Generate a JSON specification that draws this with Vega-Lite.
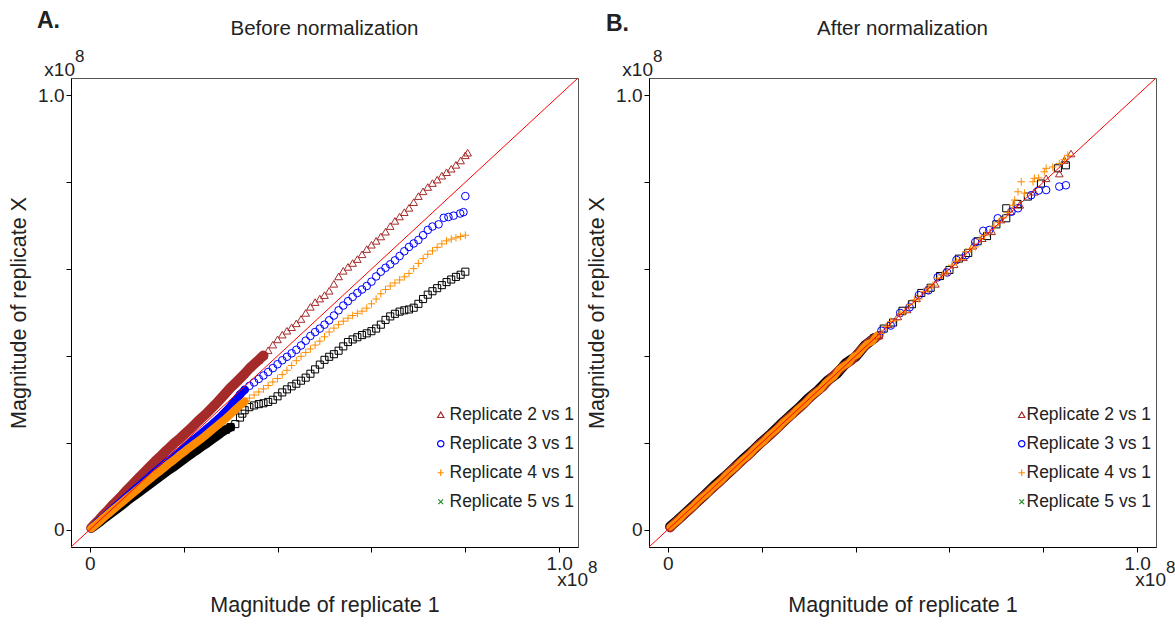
{
"$schema":"https://vega.github.io/schema/vega-lite/v6.json",
"background":"white",
"padding":{"left":8,"top":9,"right":5,"bottom":5},
"config":{"font":"Liberation Sans","view":{"stroke":"#555","strokeWidth":1},
"axis":{"grid":false,"domainColor":"#000","tickColor":"#000","domainWidth":1,"tickWidth":1,"tickSize":5,"labelFontSize":19,"labelColor":"#222","labelPadding":2,"titleFontSize":21.5,"titleFontWeight":"normal","titleColor":"#222","labelExpr":"datum.value == 0 ? '0' : (datum.value == 1 ? '1.0' : '')","labelFlush":false,"labelOverlap":false},
"axisX":{"titlePadding":21},"axisY":{"titlePadding":7},
"legend":{"orient":"none","title":null,"labelFontSize":17.5,"labelColor":"#222","symbolSize":40,"symbolStrokeWidth":1.2,"rowPadding":10,"padding":0}},
"datasets":{"pts":[
{"p":"A","s":"5","x":0.003,"y":0.003},{"p":"A","s":"5","x":0.01,"y":0.008},{"p":"A","s":"5","x":0.02,"y":0.016},{"p":"A","s":"5","x":0.03,"y":0.025},{"p":"A","s":"5","x":0.04,"y":0.033},{"p":"A","s":"5","x":0.05,"y":0.041},{"p":"A","s":"5","x":0.06,"y":0.049},{"p":"A","s":"5","x":0.07,"y":0.057},{"p":"A","s":"5","x":0.08,"y":0.066},{"p":"A","s":"5","x":0.09,"y":0.074},{"p":"A","s":"5","x":0.1,"y":0.082},{"p":"A","s":"5","x":0.11,"y":0.09},{"p":"A","s":"5","x":0.12,"y":0.098},{"p":"A","s":"5","x":0.13,"y":0.106},{"p":"A","s":"5","x":0.14,"y":0.114},{"p":"A","s":"5","x":0.15,"y":0.122},{"p":"A","s":"5","x":0.16,"y":0.13},{"p":"A","s":"5","x":0.17,"y":0.138},{"p":"A","s":"5","x":0.18,"y":0.145},{"p":"A","s":"5","x":0.19,"y":0.153},{"p":"A","s":"5","x":0.2,"y":0.161},{"p":"A","s":"5","x":0.21,"y":0.169},{"p":"A","s":"5","x":0.22,"y":0.177},{"p":"A","s":"5","x":0.23,"y":0.184},{"p":"A","s":"5","x":0.24,"y":0.192},{"p":"A","s":"5","x":0.25,"y":0.199},{"p":"A","s":"5","x":0.26,"y":0.207},{"p":"A","s":"5","x":0.27,"y":0.215},{"p":"A","s":"5","x":0.28,"y":0.223},{"p":"A","s":"5","x":0.29,"y":0.23},{"p":"A","s":"5","x":0.3,"y":0.236},{"p":"A","s":"5","x":0.31,"y":0.243},{"p":"A","s":"5","x":0.32,"y":0.258},{"p":"A","s":"5","x":0.325,"y":0.267},{"p":"A","s":"5","x":0.33,"y":0.275},{"p":"A","s":"5","x":0.34,"y":0.282},{"p":"A","s":"5","x":0.35,"y":0.286},{"p":"A","s":"5","x":0.36,"y":0.289},{"p":"A","s":"5","x":0.37,"y":0.291},{"p":"A","s":"5","x":0.38,"y":0.294},{"p":"A","s":"5","x":0.39,"y":0.299},{"p":"A","s":"5","x":0.4,"y":0.307},{"p":"A","s":"5","x":0.41,"y":0.316},{"p":"A","s":"5","x":0.42,"y":0.323},{"p":"A","s":"5","x":0.43,"y":0.33},{"p":"A","s":"5","x":0.44,"y":0.336},{"p":"A","s":"5","x":0.45,"y":0.343},{"p":"A","s":"5","x":0.46,"y":0.35},{"p":"A","s":"5","x":0.47,"y":0.359},{"p":"A","s":"5","x":0.48,"y":0.369},{"p":"A","s":"5","x":0.49,"y":0.38},{"p":"A","s":"5","x":0.5,"y":0.391},{"p":"A","s":"5","x":0.51,"y":0.398},{"p":"A","s":"5","x":0.52,"y":0.404},{"p":"A","s":"5","x":0.53,"y":0.412},{"p":"A","s":"5","x":0.54,"y":0.422},{"p":"A","s":"5","x":0.55,"y":0.432},{"p":"A","s":"5","x":0.56,"y":0.438},{"p":"A","s":"5","x":0.57,"y":0.443},{"p":"A","s":"5","x":0.58,"y":0.448},{"p":"A","s":"5","x":0.59,"y":0.452},{"p":"A","s":"5","x":0.6,"y":0.457},{"p":"A","s":"5","x":0.61,"y":0.463},{"p":"A","s":"5","x":0.62,"y":0.472},{"p":"A","s":"5","x":0.63,"y":0.483},{"p":"A","s":"5","x":0.64,"y":0.491},{"p":"A","s":"5","x":0.65,"y":0.497},{"p":"A","s":"5","x":0.66,"y":0.502},{"p":"A","s":"5","x":0.67,"y":0.505},{"p":"A","s":"5","x":0.68,"y":0.507},{"p":"A","s":"5","x":0.69,"y":0.511},{"p":"A","s":"5","x":0.7,"y":0.52},{"p":"A","s":"5","x":0.71,"y":0.531},{"p":"A","s":"5","x":0.72,"y":0.541},{"p":"A","s":"5","x":0.73,"y":0.549},{"p":"A","s":"5","x":0.74,"y":0.556},{"p":"A","s":"5","x":0.75,"y":0.563},{"p":"A","s":"5","x":0.76,"y":0.57},{"p":"A","s":"5","x":0.77,"y":0.576},{"p":"A","s":"5","x":0.78,"y":0.582},{"p":"A","s":"5","x":0.79,"y":0.587},{"p":"A","s":"5","x":0.8,"y":0.594},
{"p":"A","s":"2","x":0.003,"y":0.004},{"p":"A","s":"2","x":0.01,"y":0.012},{"p":"A","s":"2","x":0.02,"y":0.023},{"p":"A","s":"2","x":0.03,"y":0.035},{"p":"A","s":"2","x":0.04,"y":0.046},{"p":"A","s":"2","x":0.05,"y":0.058},{"p":"A","s":"2","x":0.06,"y":0.069},{"p":"A","s":"2","x":0.07,"y":0.08},{"p":"A","s":"2","x":0.08,"y":0.092},{"p":"A","s":"2","x":0.09,"y":0.103},{"p":"A","s":"2","x":0.1,"y":0.114},{"p":"A","s":"2","x":0.11,"y":0.125},{"p":"A","s":"2","x":0.12,"y":0.136},{"p":"A","s":"2","x":0.13,"y":0.147},{"p":"A","s":"2","x":0.14,"y":0.158},{"p":"A","s":"2","x":0.15,"y":0.168},{"p":"A","s":"2","x":0.16,"y":0.179},{"p":"A","s":"2","x":0.17,"y":0.189},{"p":"A","s":"2","x":0.18,"y":0.199},{"p":"A","s":"2","x":0.19,"y":0.208},{"p":"A","s":"2","x":0.2,"y":0.218},{"p":"A","s":"2","x":0.21,"y":0.228},{"p":"A","s":"2","x":0.22,"y":0.238},{"p":"A","s":"2","x":0.23,"y":0.249},{"p":"A","s":"2","x":0.24,"y":0.259},{"p":"A","s":"2","x":0.25,"y":0.269},{"p":"A","s":"2","x":0.26,"y":0.28},{"p":"A","s":"2","x":0.27,"y":0.291},{"p":"A","s":"2","x":0.28,"y":0.303},{"p":"A","s":"2","x":0.29,"y":0.315},{"p":"A","s":"2","x":0.3,"y":0.327},{"p":"A","s":"2","x":0.31,"y":0.337},{"p":"A","s":"2","x":0.32,"y":0.348},{"p":"A","s":"2","x":0.33,"y":0.359},{"p":"A","s":"2","x":0.34,"y":0.371},{"p":"A","s":"2","x":0.35,"y":0.381},{"p":"A","s":"2","x":0.36,"y":0.391},{"p":"A","s":"2","x":0.37,"y":0.401},{"p":"A","s":"2","x":0.38,"y":0.413},{"p":"A","s":"2","x":0.39,"y":0.426},{"p":"A","s":"2","x":0.4,"y":0.438},{"p":"A","s":"2","x":0.41,"y":0.449},{"p":"A","s":"2","x":0.42,"y":0.458},{"p":"A","s":"2","x":0.43,"y":0.466},{"p":"A","s":"2","x":0.44,"y":0.475},{"p":"A","s":"2","x":0.45,"y":0.485},{"p":"A","s":"2","x":0.46,"y":0.499},{"p":"A","s":"2","x":0.47,"y":0.513},{"p":"A","s":"2","x":0.48,"y":0.524},{"p":"A","s":"2","x":0.49,"y":0.532},{"p":"A","s":"2","x":0.5,"y":0.54},{"p":"A","s":"2","x":0.51,"y":0.55},{"p":"A","s":"2","x":0.52,"y":0.566},{"p":"A","s":"2","x":0.53,"y":0.583},{"p":"A","s":"2","x":0.54,"y":0.596},{"p":"A","s":"2","x":0.55,"y":0.605},{"p":"A","s":"2","x":0.56,"y":0.614},{"p":"A","s":"2","x":0.57,"y":0.623},{"p":"A","s":"2","x":0.58,"y":0.634},{"p":"A","s":"2","x":0.59,"y":0.646},{"p":"A","s":"2","x":0.6,"y":0.656},{"p":"A","s":"2","x":0.61,"y":0.665},{"p":"A","s":"2","x":0.62,"y":0.675},{"p":"A","s":"2","x":0.63,"y":0.686},{"p":"A","s":"2","x":0.64,"y":0.699},{"p":"A","s":"2","x":0.65,"y":0.711},{"p":"A","s":"2","x":0.66,"y":0.721},{"p":"A","s":"2","x":0.67,"y":0.731},{"p":"A","s":"2","x":0.68,"y":0.741},{"p":"A","s":"2","x":0.69,"y":0.754},{"p":"A","s":"2","x":0.7,"y":0.768},{"p":"A","s":"2","x":0.71,"y":0.779},{"p":"A","s":"2","x":0.72,"y":0.789},{"p":"A","s":"2","x":0.73,"y":0.798},{"p":"A","s":"2","x":0.74,"y":0.806},{"p":"A","s":"2","x":0.75,"y":0.815},{"p":"A","s":"2","x":0.76,"y":0.823},{"p":"A","s":"2","x":0.77,"y":0.831},{"p":"A","s":"2","x":0.78,"y":0.84},{"p":"A","s":"2","x":0.79,"y":0.85},{"p":"A","s":"2","x":0.8,"y":0.862},{"p":"A","s":"2","x":0.805,"y":0.868},
{"p":"A","s":"3","x":0.003,"y":0.003},{"p":"A","s":"3","x":0.01,"y":0.01},{"p":"A","s":"3","x":0.02,"y":0.02},{"p":"A","s":"3","x":0.03,"y":0.029},{"p":"A","s":"3","x":0.04,"y":0.039},{"p":"A","s":"3","x":0.05,"y":0.049},{"p":"A","s":"3","x":0.06,"y":0.058},{"p":"A","s":"3","x":0.07,"y":0.068},{"p":"A","s":"3","x":0.08,"y":0.077},{"p":"A","s":"3","x":0.09,"y":0.087},{"p":"A","s":"3","x":0.1,"y":0.096},{"p":"A","s":"3","x":0.11,"y":0.106},{"p":"A","s":"3","x":0.12,"y":0.115},{"p":"A","s":"3","x":0.13,"y":0.125},{"p":"A","s":"3","x":0.14,"y":0.134},{"p":"A","s":"3","x":0.15,"y":0.143},{"p":"A","s":"3","x":0.16,"y":0.152},{"p":"A","s":"3","x":0.17,"y":0.161},{"p":"A","s":"3","x":0.18,"y":0.17},{"p":"A","s":"3","x":0.19,"y":0.179},{"p":"A","s":"3","x":0.2,"y":0.188},{"p":"A","s":"3","x":0.21,"y":0.197},{"p":"A","s":"3","x":0.22,"y":0.206},{"p":"A","s":"3","x":0.23,"y":0.215},{"p":"A","s":"3","x":0.24,"y":0.224},{"p":"A","s":"3","x":0.25,"y":0.233},{"p":"A","s":"3","x":0.26,"y":0.242},{"p":"A","s":"3","x":0.27,"y":0.252},{"p":"A","s":"3","x":0.28,"y":0.262},{"p":"A","s":"3","x":0.29,"y":0.273},{"p":"A","s":"3","x":0.3,"y":0.285},{"p":"A","s":"3","x":0.31,"y":0.298},{"p":"A","s":"3","x":0.32,"y":0.311},{"p":"A","s":"3","x":0.33,"y":0.322},{"p":"A","s":"3","x":0.34,"y":0.331},{"p":"A","s":"3","x":0.35,"y":0.339},{"p":"A","s":"3","x":0.36,"y":0.347},{"p":"A","s":"3","x":0.37,"y":0.355},{"p":"A","s":"3","x":0.38,"y":0.363},{"p":"A","s":"3","x":0.39,"y":0.372},{"p":"A","s":"3","x":0.4,"y":0.381},{"p":"A","s":"3","x":0.41,"y":0.39},{"p":"A","s":"3","x":0.42,"y":0.398},{"p":"A","s":"3","x":0.43,"y":0.406},{"p":"A","s":"3","x":0.44,"y":0.414},{"p":"A","s":"3","x":0.45,"y":0.424},{"p":"A","s":"3","x":0.46,"y":0.435},{"p":"A","s":"3","x":0.47,"y":0.446},{"p":"A","s":"3","x":0.48,"y":0.455},{"p":"A","s":"3","x":0.49,"y":0.463},{"p":"A","s":"3","x":0.5,"y":0.472},{"p":"A","s":"3","x":0.51,"y":0.482},{"p":"A","s":"3","x":0.52,"y":0.493},{"p":"A","s":"3","x":0.53,"y":0.505},{"p":"A","s":"3","x":0.54,"y":0.516},{"p":"A","s":"3","x":0.55,"y":0.526},{"p":"A","s":"3","x":0.56,"y":0.536},{"p":"A","s":"3","x":0.57,"y":0.545},{"p":"A","s":"3","x":0.58,"y":0.553},{"p":"A","s":"3","x":0.59,"y":0.561},{"p":"A","s":"3","x":0.6,"y":0.571},{"p":"A","s":"3","x":0.61,"y":0.583},{"p":"A","s":"3","x":0.62,"y":0.594},{"p":"A","s":"3","x":0.63,"y":0.603},{"p":"A","s":"3","x":0.64,"y":0.611},{"p":"A","s":"3","x":0.65,"y":0.62},{"p":"A","s":"3","x":0.66,"y":0.63},{"p":"A","s":"3","x":0.67,"y":0.641},{"p":"A","s":"3","x":0.68,"y":0.651},{"p":"A","s":"3","x":0.69,"y":0.659},{"p":"A","s":"3","x":0.7,"y":0.667},{"p":"A","s":"3","x":0.71,"y":0.678},{"p":"A","s":"3","x":0.72,"y":0.69},{"p":"A","s":"3","x":0.73,"y":0.698},{"p":"A","s":"3","x":0.743,"y":0.703},{"p":"A","s":"3","x":0.754,"y":0.718},{"p":"A","s":"3","x":0.764,"y":0.72},{"p":"A","s":"3","x":0.775,"y":0.723},{"p":"A","s":"3","x":0.789,"y":0.728},{"p":"A","s":"3","x":0.796,"y":0.731},{"p":"A","s":"3","x":0.8,"y":0.768},
{"p":"A","s":"4","x":0.003,"y":0.003},{"p":"A","s":"4","x":0.01,"y":0.009},{"p":"A","s":"4","x":0.02,"y":0.018},{"p":"A","s":"4","x":0.03,"y":0.028},{"p":"A","s":"4","x":0.04,"y":0.037},{"p":"A","s":"4","x":0.05,"y":0.046},{"p":"A","s":"4","x":0.06,"y":0.055},{"p":"A","s":"4","x":0.07,"y":0.064},{"p":"A","s":"4","x":0.08,"y":0.073},{"p":"A","s":"4","x":0.09,"y":0.082},{"p":"A","s":"4","x":0.1,"y":0.091},{"p":"A","s":"4","x":0.11,"y":0.1},{"p":"A","s":"4","x":0.12,"y":0.109},{"p":"A","s":"4","x":0.13,"y":0.118},{"p":"A","s":"4","x":0.14,"y":0.127},{"p":"A","s":"4","x":0.15,"y":0.135},{"p":"A","s":"4","x":0.16,"y":0.144},{"p":"A","s":"4","x":0.17,"y":0.153},{"p":"A","s":"4","x":0.18,"y":0.161},{"p":"A","s":"4","x":0.19,"y":0.17},{"p":"A","s":"4","x":0.2,"y":0.178},{"p":"A","s":"4","x":0.21,"y":0.187},{"p":"A","s":"4","x":0.22,"y":0.195},{"p":"A","s":"4","x":0.23,"y":0.203},{"p":"A","s":"4","x":0.24,"y":0.211},{"p":"A","s":"4","x":0.25,"y":0.22},{"p":"A","s":"4","x":0.26,"y":0.229},{"p":"A","s":"4","x":0.27,"y":0.238},{"p":"A","s":"4","x":0.28,"y":0.247},{"p":"A","s":"4","x":0.29,"y":0.256},{"p":"A","s":"4","x":0.3,"y":0.266},{"p":"A","s":"4","x":0.31,"y":0.276},{"p":"A","s":"4","x":0.32,"y":0.286},{"p":"A","s":"4","x":0.33,"y":0.295},{"p":"A","s":"4","x":0.34,"y":0.303},{"p":"A","s":"4","x":0.35,"y":0.31},{"p":"A","s":"4","x":0.36,"y":0.317},{"p":"A","s":"4","x":0.37,"y":0.324},{"p":"A","s":"4","x":0.38,"y":0.332},{"p":"A","s":"4","x":0.39,"y":0.34},{"p":"A","s":"4","x":0.4,"y":0.348},{"p":"A","s":"4","x":0.41,"y":0.357},{"p":"A","s":"4","x":0.42,"y":0.367},{"p":"A","s":"4","x":0.43,"y":0.378},{"p":"A","s":"4","x":0.44,"y":0.389},{"p":"A","s":"4","x":0.45,"y":0.399},{"p":"A","s":"4","x":0.46,"y":0.408},{"p":"A","s":"4","x":0.47,"y":0.416},{"p":"A","s":"4","x":0.48,"y":0.425},{"p":"A","s":"4","x":0.49,"y":0.434},{"p":"A","s":"4","x":0.5,"y":0.444},{"p":"A","s":"4","x":0.51,"y":0.455},{"p":"A","s":"4","x":0.52,"y":0.464},{"p":"A","s":"4","x":0.53,"y":0.472},{"p":"A","s":"4","x":0.54,"y":0.48},{"p":"A","s":"4","x":0.55,"y":0.487},{"p":"A","s":"4","x":0.56,"y":0.493},{"p":"A","s":"4","x":0.57,"y":0.498},{"p":"A","s":"4","x":0.58,"y":0.503},{"p":"A","s":"4","x":0.59,"y":0.51},{"p":"A","s":"4","x":0.6,"y":0.52},{"p":"A","s":"4","x":0.61,"y":0.531},{"p":"A","s":"4","x":0.62,"y":0.543},{"p":"A","s":"4","x":0.63,"y":0.553},{"p":"A","s":"4","x":0.64,"y":0.561},{"p":"A","s":"4","x":0.65,"y":0.568},{"p":"A","s":"4","x":0.66,"y":0.575},{"p":"A","s":"4","x":0.67,"y":0.582},{"p":"A","s":"4","x":0.68,"y":0.59},{"p":"A","s":"4","x":0.69,"y":0.601},{"p":"A","s":"4","x":0.7,"y":0.613},{"p":"A","s":"4","x":0.71,"y":0.624},{"p":"A","s":"4","x":0.72,"y":0.634},{"p":"A","s":"4","x":0.73,"y":0.642},{"p":"A","s":"4","x":0.74,"y":0.65},{"p":"A","s":"4","x":0.75,"y":0.658},{"p":"A","s":"4","x":0.76,"y":0.665},{"p":"A","s":"4","x":0.77,"y":0.669},{"p":"A","s":"4","x":0.78,"y":0.672},{"p":"A","s":"4","x":0.79,"y":0.675},{"p":"A","s":"4","x":0.8,"y":0.678},
{"p":"B","s":"5","x":0.005,"y":0.007},{"p":"B","s":"5","x":0.02,"y":0.021},{"p":"B","s":"5","x":0.04,"y":0.041},{"p":"B","s":"5","x":0.06,"y":0.061},{"p":"B","s":"5","x":0.08,"y":0.081},{"p":"B","s":"5","x":0.1,"y":0.102},{"p":"B","s":"5","x":0.12,"y":0.121},{"p":"B","s":"5","x":0.14,"y":0.141},{"p":"B","s":"5","x":0.16,"y":0.162},{"p":"B","s":"5","x":0.18,"y":0.181},{"p":"B","s":"5","x":0.2,"y":0.202},{"p":"B","s":"5","x":0.22,"y":0.221},{"p":"B","s":"5","x":0.24,"y":0.242},{"p":"B","s":"5","x":0.26,"y":0.262},{"p":"B","s":"5","x":0.28,"y":0.281},{"p":"B","s":"5","x":0.3,"y":0.303},{"p":"B","s":"5","x":0.32,"y":0.321},{"p":"B","s":"5","x":0.34,"y":0.343},{"p":"B","s":"5","x":0.36,"y":0.359},{"p":"B","s":"5","x":0.38,"y":0.384},{"p":"B","s":"5","x":0.4,"y":0.398},{"p":"B","s":"5","x":0.42,"y":0.424},{"p":"B","s":"5","x":0.44,"y":0.441},{"p":"B","s":"5","x":0.46,"y":0.463},{"p":"B","s":"5","x":0.48,"y":0.477},{"p":"B","s":"5","x":0.5,"y":0.504},{"p":"B","s":"5","x":0.52,"y":0.519},{"p":"B","s":"5","x":0.54,"y":0.545},{"p":"B","s":"5","x":0.56,"y":0.557},{"p":"B","s":"5","x":0.58,"y":0.584},{"p":"B","s":"5","x":0.6,"y":0.598},{"p":"B","s":"5","x":0.62,"y":0.624},{"p":"B","s":"5","x":0.64,"y":0.637},{"p":"B","s":"5","x":0.66,"y":0.664},{"p":"B","s":"5","x":0.68,"y":0.676},{"p":"B","s":"5","x":0.7,"y":0.703},{"p":"B","s":"5","x":0.721,"y":0.717},{"p":"B","s":"5","x":0.721,"y":0.74},{"p":"B","s":"5","x":0.745,"y":0.75},{"p":"B","s":"5","x":0.767,"y":0.767},{"p":"B","s":"5","x":0.795,"y":0.797},{"p":"B","s":"5","x":0.831,"y":0.832},{"p":"B","s":"5","x":0.848,"y":0.839},
{"p":"B","s":"2","x":0.005,"y":0.004},{"p":"B","s":"2","x":0.01,"y":0.01},{"p":"B","s":"2","x":0.03,"y":0.03},{"p":"B","s":"2","x":0.05,"y":0.049},{"p":"B","s":"2","x":0.07,"y":0.071},{"p":"B","s":"2","x":0.09,"y":0.09},{"p":"B","s":"2","x":0.11,"y":0.109},{"p":"B","s":"2","x":0.13,"y":0.131},{"p":"B","s":"2","x":0.15,"y":0.15},{"p":"B","s":"2","x":0.17,"y":0.169},{"p":"B","s":"2","x":0.19,"y":0.191},{"p":"B","s":"2","x":0.21,"y":0.21},{"p":"B","s":"2","x":0.23,"y":0.229},{"p":"B","s":"2","x":0.25,"y":0.251},{"p":"B","s":"2","x":0.27,"y":0.27},{"p":"B","s":"2","x":0.29,"y":0.289},{"p":"B","s":"2","x":0.31,"y":0.311},{"p":"B","s":"2","x":0.33,"y":0.328},{"p":"B","s":"2","x":0.35,"y":0.352},{"p":"B","s":"2","x":0.37,"y":0.373},{"p":"B","s":"2","x":0.39,"y":0.388},{"p":"B","s":"2","x":0.41,"y":0.412},{"p":"B","s":"2","x":0.43,"y":0.433},{"p":"B","s":"2","x":0.45,"y":0.447},{"p":"B","s":"2","x":0.47,"y":0.473},{"p":"B","s":"2","x":0.49,"y":0.491},{"p":"B","s":"2","x":0.51,"y":0.507},{"p":"B","s":"2","x":0.53,"y":0.533},{"p":"B","s":"2","x":0.55,"y":0.552},{"p":"B","s":"2","x":0.57,"y":0.566},{"p":"B","s":"2","x":0.59,"y":0.594},{"p":"B","s":"2","x":0.61,"y":0.611},{"p":"B","s":"2","x":0.63,"y":0.627},{"p":"B","s":"2","x":0.65,"y":0.654},{"p":"B","s":"2","x":0.67,"y":0.671},{"p":"B","s":"2","x":0.69,"y":0.687},{"p":"B","s":"2","x":0.71,"y":0.714},{"p":"B","s":"2","x":0.73,"y":0.733},{"p":"B","s":"2","x":0.75,"y":0.748},{"p":"B","s":"2","x":0.781,"y":0.778},{"p":"B","s":"2","x":0.806,"y":0.809},{"p":"B","s":"2","x":0.834,"y":0.82},{"p":"B","s":"2","x":0.845,"y":0.851},{"p":"B","s":"2","x":0.859,"y":0.866},
{"p":"B","s":"3","x":0.015,"y":0.014},{"p":"B","s":"3","x":0.035,"y":0.035},{"p":"B","s":"3","x":0.055,"y":0.056},{"p":"B","s":"3","x":0.075,"y":0.074},{"p":"B","s":"3","x":0.095,"y":0.095},{"p":"B","s":"3","x":0.115,"y":0.116},{"p":"B","s":"3","x":0.135,"y":0.134},{"p":"B","s":"3","x":0.155,"y":0.155},{"p":"B","s":"3","x":0.175,"y":0.176},{"p":"B","s":"3","x":0.195,"y":0.194},{"p":"B","s":"3","x":0.215,"y":0.215},{"p":"B","s":"3","x":0.235,"y":0.236},{"p":"B","s":"3","x":0.255,"y":0.254},{"p":"B","s":"3","x":0.275,"y":0.275},{"p":"B","s":"3","x":0.295,"y":0.296},{"p":"B","s":"3","x":0.315,"y":0.313},{"p":"B","s":"3","x":0.335,"y":0.334},{"p":"B","s":"3","x":0.355,"y":0.359},{"p":"B","s":"3","x":0.375,"y":0.372},{"p":"B","s":"3","x":0.395,"y":0.393},{"p":"B","s":"3","x":0.415,"y":0.42},{"p":"B","s":"3","x":0.435,"y":0.431},{"p":"B","s":"3","x":0.455,"y":0.458},{"p":"B","s":"3","x":0.475,"y":0.47},{"p":"B","s":"3","x":0.495,"y":0.499},{"p":"B","s":"3","x":0.515,"y":0.512},{"p":"B","s":"3","x":0.535,"y":0.54},{"p":"B","s":"3","x":0.555,"y":0.551},{"p":"B","s":"3","x":0.575,"y":0.581},{"p":"B","s":"3","x":0.595,"y":0.592},{"p":"B","s":"3","x":0.615,"y":0.621},{"p":"B","s":"3","x":0.635,"y":0.632},{"p":"B","s":"3","x":0.655,"y":0.662},{"p":"B","s":"3","x":0.672,"y":0.688},{"p":"B","s":"3","x":0.685,"y":0.69},{"p":"B","s":"3","x":0.703,"y":0.717},{"p":"B","s":"3","x":0.732,"y":0.732},{"p":"B","s":"3","x":0.746,"y":0.74},{"p":"B","s":"3","x":0.774,"y":0.77},{"p":"B","s":"3","x":0.79,"y":0.781},{"p":"B","s":"3","x":0.806,"y":0.782},{"p":"B","s":"3","x":0.834,"y":0.79},{"p":"B","s":"3","x":0.848,"y":0.793},
{"p":"B","s":"4","x":0.005,"y":0.006},{"p":"B","s":"4","x":0.015,"y":0.015},{"p":"B","s":"4","x":0.025,"y":0.024},{"p":"B","s":"4","x":0.035,"y":0.036},{"p":"B","s":"4","x":0.045,"y":0.045},{"p":"B","s":"4","x":0.055,"y":0.054},{"p":"B","s":"4","x":0.065,"y":0.066},{"p":"B","s":"4","x":0.075,"y":0.075},{"p":"B","s":"4","x":0.085,"y":0.084},{"p":"B","s":"4","x":0.095,"y":0.096},{"p":"B","s":"4","x":0.105,"y":0.105},{"p":"B","s":"4","x":0.115,"y":0.114},{"p":"B","s":"4","x":0.125,"y":0.126},{"p":"B","s":"4","x":0.135,"y":0.135},{"p":"B","s":"4","x":0.145,"y":0.144},{"p":"B","s":"4","x":0.155,"y":0.156},{"p":"B","s":"4","x":0.165,"y":0.165},{"p":"B","s":"4","x":0.175,"y":0.174},{"p":"B","s":"4","x":0.185,"y":0.186},{"p":"B","s":"4","x":0.195,"y":0.195},{"p":"B","s":"4","x":0.205,"y":0.204},{"p":"B","s":"4","x":0.215,"y":0.216},{"p":"B","s":"4","x":0.225,"y":0.225},{"p":"B","s":"4","x":0.235,"y":0.234},{"p":"B","s":"4","x":0.245,"y":0.246},{"p":"B","s":"4","x":0.255,"y":0.255},{"p":"B","s":"4","x":0.265,"y":0.264},{"p":"B","s":"4","x":0.275,"y":0.276},{"p":"B","s":"4","x":0.285,"y":0.285},{"p":"B","s":"4","x":0.295,"y":0.294},{"p":"B","s":"4","x":0.305,"y":0.306},{"p":"B","s":"4","x":0.315,"y":0.315},{"p":"B","s":"4","x":0.325,"y":0.323},{"p":"B","s":"4","x":0.335,"y":0.337},{"p":"B","s":"4","x":0.345,"y":0.345},{"p":"B","s":"4","x":0.355,"y":0.353},{"p":"B","s":"4","x":0.365,"y":0.369},{"p":"B","s":"4","x":0.375,"y":0.377},{"p":"B","s":"4","x":0.385,"y":0.383},{"p":"B","s":"4","x":0.395,"y":0.398},{"p":"B","s":"4","x":0.405,"y":0.403},{"p":"B","s":"4","x":0.415,"y":0.417},{"p":"B","s":"4","x":0.425,"y":0.428},{"p":"B","s":"4","x":0.435,"y":0.432},{"p":"B","s":"4","x":0.445,"y":0.447},{"p":"B","s":"4","x":0.455,"y":0.452},{"p":"B","s":"4","x":0.465,"y":0.468},{"p":"B","s":"4","x":0.475,"y":0.479},{"p":"B","s":"4","x":0.485,"y":0.482},{"p":"B","s":"4","x":0.495,"y":0.497},{"p":"B","s":"4","x":0.505,"y":0.501},{"p":"B","s":"4","x":0.515,"y":0.518},{"p":"B","s":"4","x":0.525,"y":0.529},{"p":"B","s":"4","x":0.535,"y":0.531},{"p":"B","s":"4","x":0.545,"y":0.548},{"p":"B","s":"4","x":0.555,"y":0.556},{"p":"B","s":"4","x":0.565,"y":0.563},{"p":"B","s":"4","x":0.575,"y":0.579},{"p":"B","s":"4","x":0.585,"y":0.586},{"p":"B","s":"4","x":0.595,"y":0.591},{"p":"B","s":"4","x":0.605,"y":0.609},{"p":"B","s":"4","x":0.615,"y":0.618},{"p":"B","s":"4","x":0.625,"y":0.622},{"p":"B","s":"4","x":0.635,"y":0.64},{"p":"B","s":"4","x":0.645,"y":0.646},{"p":"B","s":"4","x":0.655,"y":0.651},{"p":"B","s":"4","x":0.665,"y":0.669},{"p":"B","s":"4","x":0.675,"y":0.678},{"p":"B","s":"4","x":0.685,"y":0.683},{"p":"B","s":"4","x":0.695,"y":0.699},{"p":"B","s":"4","x":0.705,"y":0.708},{"p":"B","s":"4","x":0.715,"y":0.718},{"p":"B","s":"4","x":0.725,"y":0.73},{"p":"B","s":"4","x":0.735,"y":0.747},{"p":"B","s":"4","x":0.739,"y":0.759},{"p":"B","s":"4","x":0.746,"y":0.778},{"p":"B","s":"4","x":0.753,"y":0.801},{"p":"B","s":"4","x":0.76,"y":0.775},{"p":"B","s":"4","x":0.778,"y":0.801},{"p":"B","s":"4","x":0.781,"y":0.809},{"p":"B","s":"4","x":0.79,"y":0.81},{"p":"B","s":"4","x":0.802,"y":0.824},{"p":"B","s":"4","x":0.806,"y":0.832},{"p":"B","s":"4","x":0.82,"y":0.835},{"p":"B","s":"4","x":0.834,"y":0.843},{"p":"B","s":"4","x":0.845,"y":0.852},{"p":"B","s":"4","x":0.852,"y":0.862}
]},
"hconcat":[
{"width":507,"height":469,"data":{"name":"pts"},"transform":[{"filter":"datum.p == 'A'"}],
"layer":[
{"transform":[{"filter":"datum.s == '5' && datum.x <= 0.3"}],"mark":{"type":"line","color":"black","strokeWidth":9,"strokeCap":"round","strokeJoin":"round"},
"encoding":{"x":{"field":"x","type":"quantitative","scale":{"domain":[-0.04,1.04],"nice":false,"zero":false},"axis":{"values":[0,0.2,0.4,0.6,0.8,1],"title":"Magnitude of replicate 1"}},"y":{"field":"y","type":"quantitative","scale":{"domain":[-0.04,1.04],"nice":false,"zero":false},"axis":{"values":[0,0.2,0.4,0.6,0.8,1],"title":"Magnitude of replicate X"}}}},
{"transform":[{"filter":"datum.s == '5' && datum.x >= 0.29"}],"mark":{"type":"point","shape":"square","color":"black","filled":false,"size":50,"strokeWidth":1,"opacity":1},
"encoding":{"x":{"field":"x","type":"quantitative","scale":{"domain":[-0.04,1.04],"nice":false,"zero":false},"axis":{"values":[0,0.2,0.4,0.6,0.8,1],"title":"Magnitude of replicate 1"}},"y":{"field":"y","type":"quantitative","scale":{"domain":[-0.04,1.04],"nice":false,"zero":false},"axis":{"values":[0,0.2,0.4,0.6,0.8,1],"title":"Magnitude of replicate X"}}}},
{"transform":[{"filter":"datum.s == '2' && datum.x <= 0.37"}],"mark":{"type":"line","color":"#a52a2a","strokeWidth":10,"strokeCap":"round","strokeJoin":"round"},
"encoding":{"x":{"field":"x","type":"quantitative","scale":{"domain":[-0.04,1.04],"nice":false,"zero":false},"axis":{"values":[0,0.2,0.4,0.6,0.8,1],"title":"Magnitude of replicate 1"}},"y":{"field":"y","type":"quantitative","scale":{"domain":[-0.04,1.04],"nice":false,"zero":false},"axis":{"values":[0,0.2,0.4,0.6,0.8,1],"title":"Magnitude of replicate X"}}}},
{"transform":[{"filter":"datum.s == '3' && datum.x <= 0.33"}],"mark":{"type":"line","color":"#0000ff","strokeWidth":8,"strokeCap":"round","strokeJoin":"round"},
"encoding":{"x":{"field":"x","type":"quantitative","scale":{"domain":[-0.04,1.04],"nice":false,"zero":false},"axis":{"values":[0,0.2,0.4,0.6,0.8,1],"title":"Magnitude of replicate 1"}},"y":{"field":"y","type":"quantitative","scale":{"domain":[-0.04,1.04],"nice":false,"zero":false},"axis":{"values":[0,0.2,0.4,0.6,0.8,1],"title":"Magnitude of replicate X"}}}},
{"transform":[{"filter":"datum.s == '4' && datum.x <= 0.33"}],"mark":{"type":"line","color":"#ff8c00","strokeWidth":8,"strokeCap":"round","strokeJoin":"round"},
"encoding":{"x":{"field":"x","type":"quantitative","scale":{"domain":[-0.04,1.04],"nice":false,"zero":false},"axis":{"values":[0,0.2,0.4,0.6,0.8,1],"title":"Magnitude of replicate 1"}},"y":{"field":"y","type":"quantitative","scale":{"domain":[-0.04,1.04],"nice":false,"zero":false},"axis":{"values":[0,0.2,0.4,0.6,0.8,1],"title":"Magnitude of replicate X"}}}},
{"transform":[{"filter":"datum.s != '5' && datum.x >= (datum.s == '2' ? 0.36 : 0.32)"}],"mark":{"type":"point","filled":false,"size":58,"strokeWidth":1,"opacity":1},
"encoding":{"x":{"field":"x","type":"quantitative","scale":{"domain":[-0.04,1.04],"nice":false,"zero":false},"axis":{"values":[0,0.2,0.4,0.6,0.8,1],"title":"Magnitude of replicate 1"}},"y":{"field":"y","type":"quantitative","scale":{"domain":[-0.04,1.04],"nice":false,"zero":false},"axis":{"values":[0,0.2,0.4,0.6,0.8,1],"title":"Magnitude of replicate X"}},
"color":{"field":"s","type":"nominal","scale":{"domain":["2","3","4","5"],"range":["#a52a2a","#0000ff","#ff8c00","#228b22"]},"legend":{"legendX":361,"legendY":328,"labelOffset":0,"labelExpr":"'Replicate ' + datum.label + ' vs 1'"}},
"shape":{"field":"s","type":"nominal","scale":{"domain":["2","3","4","5"],"range":["triangle-up","circle","M-1,0H1M0,-1V1","M-0.75,-0.75L0.75,0.75M-0.75,0.75L0.75,-0.75"]},"legend":{"legendX":361,"legendY":328,"labelOffset":0,"labelExpr":"'Replicate ' + datum.label + ' vs 1'"}}}},
{"data":{"values":[{}]},"mark":{"type":"rule","color":"#ff0000","strokeWidth":1},
"encoding":{"x":{"datum":-0.04,"type":"quantitative"},"y":{"datum":-0.04,"type":"quantitative"},"x2":{"datum":1.04},"y2":{"datum":1.04}}},
{"data":{"values":[{}]},"mark":{"type":"text","text":"A.","align":"left","baseline":"alphabetic","fontSize":23,"fontWeight":"bold","dx":-34,"dy":-50,"color":"#222"},"encoding":{"x":{"datum":-0.04,"type":"quantitative"},"y":{"datum":1.04,"type":"quantitative"}}},
{"data":{"values":[{}]},"mark":{"type":"text","text":"Before normalization","align":"center","baseline":"alphabetic","fontSize":20.5,"dy":-43,"color":"#222"},"encoding":{"x":{"datum":0.5,"type":"quantitative"},"y":{"datum":1.04,"type":"quantitative"}}},
{"data":{"values":[{}]},"mark":{"type":"text","text":"x10","align":"right","baseline":"alphabetic","fontSize":19,"dx":4,"dy":-2,"color":"#222"},"encoding":{"x":{"datum":-0.04,"type":"quantitative"},"y":{"datum":1.04,"type":"quantitative"}}},
{"data":{"values":[{}]},"mark":{"type":"text","text":"8","align":"left","baseline":"alphabetic","fontSize":17,"dx":4,"dy":-16,"color":"#222"},"encoding":{"x":{"datum":-0.04,"type":"quantitative"},"y":{"datum":1.04,"type":"quantitative"}}},
{"data":{"values":[{}]},"mark":{"type":"text","text":"x10","align":"right","baseline":"alphabetic","fontSize":19,"dx":10,"dy":39,"color":"#222"},"encoding":{"x":{"datum":1.04,"type":"quantitative"},"y":{"datum":-0.04,"type":"quantitative"}}},
{"data":{"values":[{}]},"mark":{"type":"text","text":"8","align":"left","baseline":"alphabetic","fontSize":17,"dx":10,"dy":26,"color":"#222"},"encoding":{"x":{"datum":1.04,"type":"quantitative"},"y":{"datum":-0.04,"type":"quantitative"}}}
]},
{"width":507,"height":469,"data":{"name":"pts"},"transform":[{"filter":"datum.p == 'B'"}],
"layer":[
{"transform":[{"filter":"datum.s == '5' && datum.x <= 0.45"}],"mark":{"type":"line","color":"black","strokeWidth":10,"strokeCap":"round","strokeJoin":"round"},
"encoding":{"x":{"field":"x","type":"quantitative","scale":{"domain":[-0.04,1.04],"nice":false,"zero":false},"axis":{"values":[0,0.2,0.4,0.6,0.8,1],"title":"Magnitude of replicate 1"}},"y":{"field":"y","type":"quantitative","scale":{"domain":[-0.04,1.04],"nice":false,"zero":false},"axis":{"values":[0,0.2,0.4,0.6,0.8,1],"title":"Magnitude of replicate X"}}}},
{"transform":[{"filter":"datum.s == '5' && datum.x >= 0.44"}],"mark":{"type":"point","shape":"square","color":"black","filled":false,"size":50,"strokeWidth":1,"opacity":1},
"encoding":{"x":{"field":"x","type":"quantitative","scale":{"domain":[-0.04,1.04],"nice":false,"zero":false},"axis":{"values":[0,0.2,0.4,0.6,0.8,1],"title":"Magnitude of replicate 1"}},"y":{"field":"y","type":"quantitative","scale":{"domain":[-0.04,1.04],"nice":false,"zero":false},"axis":{"values":[0,0.2,0.4,0.6,0.8,1],"title":"Magnitude of replicate X"}}}},
{"transform":[{"filter":"datum.s == '2' && datum.x <= 0.45"}],"mark":{"type":"line","color":"#a52a2a","strokeWidth":9,"strokeCap":"round","strokeJoin":"round"},
"encoding":{"x":{"field":"x","type":"quantitative","scale":{"domain":[-0.04,1.04],"nice":false,"zero":false},"axis":{"values":[0,0.2,0.4,0.6,0.8,1],"title":"Magnitude of replicate 1"}},"y":{"field":"y","type":"quantitative","scale":{"domain":[-0.04,1.04],"nice":false,"zero":false},"axis":{"values":[0,0.2,0.4,0.6,0.8,1],"title":"Magnitude of replicate X"}}}},
{"transform":[{"filter":"datum.s == '4' && datum.x <= 0.45"}],"mark":{"type":"line","color":"#ff8c00","strokeWidth":7,"strokeCap":"round","strokeJoin":"round"},
"encoding":{"x":{"field":"x","type":"quantitative","scale":{"domain":[-0.04,1.04],"nice":false,"zero":false},"axis":{"values":[0,0.2,0.4,0.6,0.8,1],"title":"Magnitude of replicate 1"}},"y":{"field":"y","type":"quantitative","scale":{"domain":[-0.04,1.04],"nice":false,"zero":false},"axis":{"values":[0,0.2,0.4,0.6,0.8,1],"title":"Magnitude of replicate X"}}}},
{"transform":[{"filter":"datum.s != '5' && datum.x >= 0.44"}],"mark":{"type":"point","filled":false,"size":58,"strokeWidth":1,"opacity":1},
"encoding":{"x":{"field":"x","type":"quantitative","scale":{"domain":[-0.04,1.04],"nice":false,"zero":false},"axis":{"values":[0,0.2,0.4,0.6,0.8,1],"title":"Magnitude of replicate 1"}},"y":{"field":"y","type":"quantitative","scale":{"domain":[-0.04,1.04],"nice":false,"zero":false},"axis":{"values":[0,0.2,0.4,0.6,0.8,1],"title":"Magnitude of replicate X"}},
"color":{"field":"s","type":"nominal","scale":{"domain":["2","3","4","5"],"range":["#a52a2a","#0000ff","#ff8c00","#228b22"]},"legend":{"legendX":364,"legendY":328,"labelOffset":-4,"labelExpr":"'Replicate ' + datum.label + ' vs 1'"}},
"shape":{"field":"s","type":"nominal","scale":{"domain":["2","3","4","5"],"range":["triangle-up","circle","M-1,0H1M0,-1V1","M-0.75,-0.75L0.75,0.75M-0.75,0.75L0.75,-0.75"]},"legend":{"legendX":364,"legendY":328,"labelOffset":-4,"labelExpr":"'Replicate ' + datum.label + ' vs 1'"}}}},
{"data":{"values":[{}]},"mark":{"type":"rule","color":"#ff0000","strokeWidth":1},
"encoding":{"x":{"datum":-0.04,"type":"quantitative"},"y":{"datum":-0.04,"type":"quantitative"},"x2":{"datum":1.04},"y2":{"datum":1.04}}},
{"data":{"values":[{}]},"mark":{"type":"text","text":"B.","align":"left","baseline":"alphabetic","fontSize":23,"fontWeight":"bold","dx":-43,"dy":-47,"color":"#222"},"encoding":{"x":{"datum":-0.04,"type":"quantitative"},"y":{"datum":1.04,"type":"quantitative"}}},
{"data":{"values":[{}]},"mark":{"type":"text","text":"After normalization","align":"center","baseline":"alphabetic","fontSize":20.5,"dy":-43,"color":"#222"},"encoding":{"x":{"datum":0.5,"type":"quantitative"},"y":{"datum":1.04,"type":"quantitative"}}},
{"data":{"values":[{}]},"mark":{"type":"text","text":"x10","align":"right","baseline":"alphabetic","fontSize":19,"dx":4,"dy":-2,"color":"#222"},"encoding":{"x":{"datum":-0.04,"type":"quantitative"},"y":{"datum":1.04,"type":"quantitative"}}},
{"data":{"values":[{}]},"mark":{"type":"text","text":"8","align":"left","baseline":"alphabetic","fontSize":17,"dx":4,"dy":-16,"color":"#222"},"encoding":{"x":{"datum":-0.04,"type":"quantitative"},"y":{"datum":1.04,"type":"quantitative"}}},
{"data":{"values":[{}]},"mark":{"type":"text","text":"x10","align":"right","baseline":"alphabetic","fontSize":19,"dx":10,"dy":39,"color":"#222"},"encoding":{"x":{"datum":1.04,"type":"quantitative"},"y":{"datum":-0.04,"type":"quantitative"}}},
{"data":{"values":[{}]},"mark":{"type":"text","text":"8","align":"left","baseline":"alphabetic","fontSize":17,"dx":10,"dy":26,"color":"#222"},"encoding":{"x":{"datum":1.04,"type":"quantitative"},"y":{"datum":-0.04,"type":"quantitative"}}}
]}
],
"spacing":71,
"bounds":"flush",
"resolve":{"scale":{"color":"independent","shape":"independent"},"legend":{"color":"independent","shape":"independent"}}
}
